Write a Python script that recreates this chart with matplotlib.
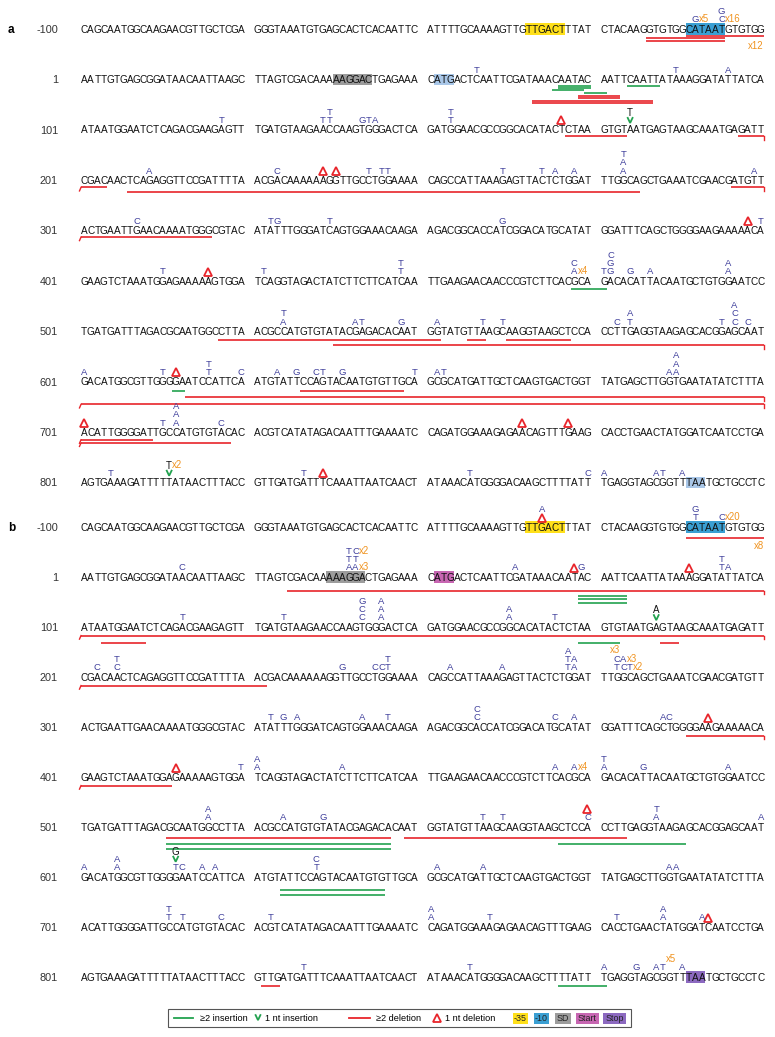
import matplotlib
matplotlib.use("Agg")
import matplotlib.pyplot as plt
from matplotlib.patches import Rectangle

plt.rcParams['font.family'] = ['Liberation Sans', 'DejaVu Sans']

# sequence, 10 rows of 4 x 25 nt (same for both panels)
SEQ_ROWS = [
    "CAGCAATGGCAAGAACGTTGCTCGA GGGTAAATGTGAGCACTCACAATTC ATTTTGCAAAAGTTGTTGACTTTAT CTACAAGGTGTGGCATAATGTGTGG",
    "AATTGTGAGCGGATAACAATTAAGC TTAGTCGACAAAAAGGACTGAGAAA CATGACTCAATTCGATAAACAATAC AATTCAATTATAAAGGATATTATCA",
    "ATAATGGAATCTCAGACGAAGAGTT TGATGTAAGAACCAAGTGGGACTCA GATGGAACGCCGGCACATACTCTAA GTGTAATGAGTAAGCAAATGAGATT",
    "CGACAACTCAGAGGTTCCGATTTTA ACGACAAAAAAGGTTGCCTGGAAAA CAGCCATTAAAGAGTTACTCTGGAT TTGGCAGCTGAAATCGAACGATGTT",
    "ACTGAATTGAACAAAATGGGCGTAC ATATTTGGGATCAGTGGAAACAAGA AGACGGCACCATCGGACATGCATAT GGATTTCAGCTGGGGAAGAAAAACA",
    "GAAGTCTAAATGGAGAAAAAGTGGA TCAGGTAGACTATCTTCTTCATCAA TTGAAGAACAACCCGTCTTCACGCA GACACATTACAATGCTGTGGAATCC",
    "TGATGATTTAGACGCAATGGCCTTA ACGCCATGTGTATACGAGACACAAT GGTATGTTAAGCAAGGTAAGCTCCA CCTTGAGGTAAGAGCACGGAGCAAT",
    "GACATGGCGTTGGGGAATCCATTCA ATGTATTCCAGTACAATGTGTTGCA GCGCATGATTGCTCAAGTGACTGGT TATGAGCTTGGTGAATATATCTTTA",
    "ACATTGGGGATTGCCATGTGTACAC ACGTCATATAGACAATTTGAAAATC CAGATGGAAAGAGAACAGTTTGAAG CACCTGAACTATGGATCAATCCTGA",
    "AGTGAAAGATTTTTATAACTTTACC GTTGATGATTTCAAATTAATCAACT ATAAACATGGGGACAAGCTTTTATT TGAGGTAGCGGTTTAATGCTGCCTC",
]
ROW_LABELS = ["-100", "1", "101", "201", "301", "401", "501", "601", "701", "801"]

# positions below are 0..999 along the displayed sequence (row*100 + column)
# shaded elements: (first, last, kind)
BOXES_A = [(65, 70, "-35"), (88, 93, "-10"), (137, 142, "SD"), (151, 153, "pale"), (988, 990, "pale")]
BOXES_B = [(65, 70, "-35"), (88, 93, "-10"), (136, 141, "SD"), (151, 153, "Start"), (988, 990, "Stop")]

# substitutions stacked above a base, bottom to top; '^' = 1 nt deletion
STACKS_A = [
    (89, "G"), (93, "CG"),
    (157, "T"), (186, "T"), (194, "A"),
    (221, "T"), (235, "T"), (236, "TT"), (241, "G"), (242, "T"), (243, "A"), (253, "TT"), (270, "^"),
    (310, "A"), (328, "C"), (335, "^"), (337, "^"), (342, "T"), (344, "T"), (345, "T"), (361, "T"),
    (367, "T"), (369, "A"), (372, "A"), (378, "AAT"), (398, "A"),
    (408, "C"), (427, "T"), (428, "G"), (436, "T"), (461, "G"), (497, "^"), (499, "T"),
    (512, "T"), (519, "^"), (526, "T"), (547, "TT"), (572, "AC"), (575, "T"), (576, "GGC"), (579, "G"),
    (582, "A"), (594, "AA"),
    (629, "AT"), (640, "A"), (641, "T"), (647, "G"), (651, "A"), (658, "T"), (661, "T"), (677, "C"),
    (679, "TA"), (693, "T"), (695, "CCA"), (697, "C"),
    (700, "A"), (712, "T"), (714, "^"), (719, "TT"), (724, "C"), (728, "A"), (731, "G"), (734, "C"),
    (735, "T"), (738, "G"), (749, "T"), (751, "A"), (752, "T"), (785, "A"), (786, "AAA"),
    (800, "^"), (812, "T"), (814, "AAA"), (821, "C"), (864, "^"), (871, "^"),
    (904, "T"), (932, "T"), (935, "^"), (956, "T"), (974, "C"), (975, "A"), (983, "A"), (984, "T"), (987, "A"),
]
STACKS_B = [
    (67, "^A"), (89, "TG"), (93, "C"),
    (115, "C"), (139, "ATT"), (140, "ATC"), (163, "A"), (172, "^"), (173, "G"), (188, "^"), (193, "TT"), (194, "A"),
    (215, "T"), (229, "T"), (241, "CCG"), (244, "AAA"), (262, "AA"), (269, "T"),
    (302, "C"), (305, "CT"), (338, "G"), (343, "C"), (344, "C"), (345, "TT"), (353, "A"), (361, "A"),
    (371, "TTA"), (372, "AA"), (377, "TC"), (378, "CA"), (379, "T"),
    (427, "T"), (429, "G"), (431, "A"), (441, "A"), (445, "T"), (457, "CC"), (469, "C"), (472, "A"),
    (484, "A"), (485, "C"), (491, "^"),
    (514, "^"), (524, "T"), (525, "AA"), (538, "A"), (569, "A"), (572, "A"), (575, "AT"), (581, "G"), (594, "A"),
    (619, "AA"), (629, "A"), (635, "G"), (658, "T"), (661, "T"), (674, "C^"), (683, "AT"), (699, "A"),
    (700, "A"), (705, "AA"), (714, "T"), (715, "C"), (718, "A"), (720, "A"), (734, "TC"), (751, "A"),
    (758, "A"), (785, "A"), (786, "A"),
    (813, "TT"), (815, "T"), (821, "C"), (827, "T"), (850, "AA"), (859, "T"), (877, "T"), (884, "AA"),
    (890, "A"), (891, "^"),
    (932, "T"), (956, "T"), (975, "A"), (980, "G"), (983, "A"), (984, "T"), (987, "A"),
]

# read counts next to a stack level: (pos, label, level)
COUNTS_A = [(89, "x5", 0), (93, "x16", 0), (572, "x4", 0), (913, "x2", 1)]
COUNTS_B = [(93, "x20", 0), (140, "x3", 0), (140, "x2", 2), (378, "x3", 1), (379, "x2", 0),
            (572, "x4", 0), (984, "x5", 1)]

# 1 nt insertions: (pos, inserted base, level)
CHEV_A = [(279, "T", 0), (913, "T", 0)]
CHEV_B = [(283, "A", 0), (714, "G", 1)]

# spans under the text: (first, last, level, parallel lines, continues L/R)
DEL_A = [
    (88, 99, 0.2, 1, ""), (82, 93, 0.8, 2, ""),
    (173, 177, 2.8, 2, ""), (166, 182, 4.2, 2, ""),
    (271, 278, 0, 1, ""), (296, 299, 0, 1, "R"),
    (300, 303, 0.2, 1, "L"), (307, 380, 1.4, 1, ""), (395, 399, 0.2, 1, "R"),
    (400, 419, 0, 1, "L"),
    (621, 651, 0.6, 1, ""), (656, 658, 0.6, 1, ""), (662, 671, 0.6, 1, ""), (637, 699, 2.1, 1, "R"),
    (732, 747, 0.9, 1, ""), (716, 799, 2.6, 1, "R"), (700, 799, 4.6, 1, "LR"),
    (800, 810, 0.3, 1, "L"), (800, 822, 1.2, 1, "L"),
]
INS_A = [
    (170, 174, 0, 2, ""), (169, 173, 1.3, 1, ""), (174, 175, 2.0, 1, ""), (179, 183, 0, 1, ""),
    (572, 575, 0.3, 1, ""),
    (714, 715, 0.9, 1, ""),
]
DEL_B = [
    (88, 99, 1.3, 1, ""),
    (130, 199, 2, 1, "R"),
    (200, 299, 0.6, 1, "LR"), (203, 209, 2.6, 1, ""), (284, 286, 2.6, 1, ""),
    (300, 326, 0.6, 1, "L"),
    (488, 499, 0.6, 1, "R"),
    (500, 513, 0.6, 1, "L"),
    (613, 645, 1.4, 1, ""), (648, 678, 1.4, 1, ""),
    (926, 928, 0.6, 1, ""),
]
INS_B = [
    (173, 178, 3.5, 1, ""), (173, 178, 4.5, 1, ""), (173, 178, 5.5, 1, ""),
    (273, 277, 2.6, 1, ""),
    (613, 645, 3.0, 1, ""), (613, 645, 4.3, 1, ""), (670, 687, 3.0, 1, ""),
    (729, 744, 1.8, 1, ""), (729, 744, 3.2, 1, ""),
    (970, 975, 0.6, 1, ""),
]
# counts printed under a span end: (pos, label, level)
LINE_LABELS_A = [(99, "x12", 3.0)]
LINE_LABELS_B = [(99, "x8", 3.6), (277, "x3", 4.6)]

# layout (pixels)
X0, W, GAP = 81, 6.53, 10
Y_A = [29 + 50.4 * i for i in range(10)]
Y_B = [527 + 50.0 * i for i in range(10)]

SEQ_FS = 7.2
SUB_C = "#40409c"
ORANGE = "#f0931f"
RED = "#e8252b"
GREEN = "#22a24f"
BOX_C = {"-35": "#ffe01a", "-10": "#3a9fd3", "SD": "#9c9c9c", "Start": "#c766b2",
         "Stop": "#8c69c0", "pale": "#a9c7e8"}


def cx(c):
    return X0 + (c + 0.5) * W + (c // 25) * GAP


def stack_y(yrow, k):
    return yrow - 10.0 - 8.4 * k


def chevron(ax, x, y, size=2.4):
    ax.plot([x - size, x, x + size], [y - size, y + size * 1.1, y - size],
            color=GREEN, lw=1.3, solid_joinstyle='miter')


def draw_lines(ax, ys, spans, color):
    for a, b, lvl, n, cont in spans:
        r = a // 100
        x0 = cx(a % 100) - W / 2
        x1 = cx(b % 100) + W / 2
        for j in range(n):
            y = ys[r] + 6.5 + 3.5 * lvl + 2.4 * j
            ax.plot([x0, x1], [y, y], color=color, lw=1.2, solid_capstyle='butt')
            if "R" in cont:
                ax.plot([x1, x1], [y, y + 3.5], color=color, lw=1.0)
            if "L" in cont:
                ax.plot([x0, x0 - 1.5], [y, y + 3.5], color=color, lw=1.0)


def draw_panel(ax, ys, boxes, stacks, counts, chevs, dels, inss, labels):
    for a, b, kind in boxes:
        r = a // 100
        x0 = cx(a % 100) - W / 2
        ax.add_patch(Rectangle((x0, ys[r] - 5.8), cx(b % 100) + W / 2 - x0, 11.6,
                               facecolor=BOX_C[kind], edgecolor='none', zorder=0))
    for r, row in enumerate(SEQ_ROWS):
        bases = row.replace(" ", "")
        for c, ch in enumerate(bases):
            ax.text(cx(c), ys[r] + 3.6, ch, ha='center', va='baseline', fontsize=SEQ_FS, color='#111111')
        ax.text(58, ys[r] + 3.8, ROW_LABELS[r], ha='right', va='baseline', fontsize=7.8, color='#333333')

    for pos, st in stacks:
        r, c = divmod(pos, 100)
        for k, ch in enumerate(st):
            y = stack_y(ys[r], k)
            if ch == "^":
                ax.plot(cx(c), y + 0.6, marker='^', ms=5.2, mfc='none', mec=RED, mew=1.3)
            else:
                ax.text(cx(c), y + 3.3, ch, ha='center', va='baseline', fontsize=6.8, color=SUB_C)

    for pos, ch, lvl in chevs:
        r, c = divmod(pos, 100)
        chevron(ax, cx(c), stack_y(ys[r], lvl) + 0.5)
        ax.text(cx(c), stack_y(ys[r], lvl + 1) + 4.5, ch, ha='center', va='baseline',
                fontsize=7.0, color='#111111')

    for pos, lab, lvl in counts:
        r, c = divmod(pos, 100)
        ax.text(cx(c) + 3.0, stack_y(ys[r], lvl) + 3.3, lab, ha='left', va='baseline',
                fontsize=6.9, color=ORANGE)

    draw_lines(ax, ys, inss, GREEN)
    draw_lines(ax, ys, dels, RED)

    for pos, lab, lvl in labels:
        r, c = divmod(pos, 100)
        ax.text(cx(c) + W / 2, ys[r] + 6.5 + 3.5 * lvl + 3.0, lab, ha='right', va='baseline',
                fontsize=6.9, color=ORANGE)


fig = plt.figure(figsize=(7.75, 10.37), dpi=100)
ax = fig.add_axes([0, 0, 1, 1])
ax.set_xlim(0, 775)
ax.set_ylim(1037, 0)
ax.axis('off')

draw_panel(ax, Y_A, BOXES_A, STACKS_A, COUNTS_A, CHEV_A, DEL_A, INS_A, LINE_LABELS_A)
draw_panel(ax, Y_B, BOXES_B, STACKS_B, COUNTS_B, CHEV_B, DEL_B, INS_B, LINE_LABELS_B)

ax.text(8, Y_A[0] + 3.8, "a", fontsize=8.5, fontweight='bold', va='baseline')
ax.text(8, Y_B[0] + 3.8, "b", fontsize=8.5, fontweight='bold', va='baseline')

# legend
ly = 1018
ax.add_patch(Rectangle((168, 1009), 463, 18, facecolor='white', edgecolor='#555555', lw=0.8))
ax.plot([174, 193], [ly, ly], color=GREEN, lw=1.3)
ax.text(200, ly + 2.6, "\u22652 insertion", fontsize=6.6, va='baseline')
chevron(ax, 258, ly - 0.5)
ax.text(265, ly + 2.6, "1 nt insertion", fontsize=6.6, va='baseline')
ax.plot([349, 370], [ly, ly], color=RED, lw=1.3)
ax.text(376, ly + 2.6, "\u22652 deletion", fontsize=6.6, va='baseline')
ax.plot(437, ly, marker='^', ms=5.2, mfc='none', mec=RED, mew=1.3)
ax.text(445, ly + 2.6, "1 nt deletion", fontsize=6.6, va='baseline')
LEGEND_BOXES = [("-35", 513, 528), ("-10", 534, 549), ("SD", 555, 571), ("Start", 576, 599), ("Stop", 603, 626)]
for lab, x0, x1 in LEGEND_BOXES:
    ax.add_patch(Rectangle((x0, ly - 5.5), x1 - x0, 11, facecolor=BOX_C[lab], edgecolor='none'))
    ax.text((x0 + x1) / 2, ly + 2.6, lab, ha='center', va='baseline', fontsize=6.4, color='#222222')

fig.savefig("out.png", dpi=100)
